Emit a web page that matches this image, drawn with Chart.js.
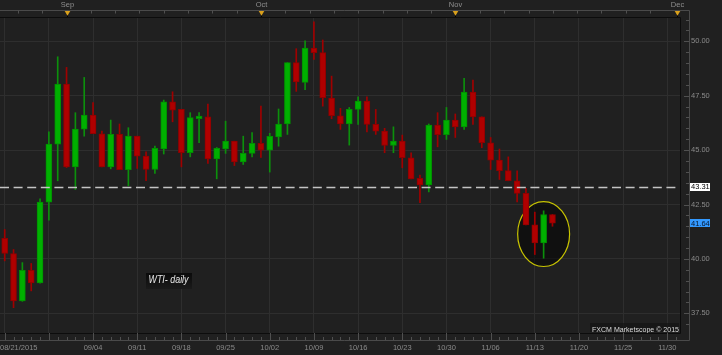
<!DOCTYPE html>
<html><head><meta charset="utf-8">
<script src="https://cdn.jsdelivr.net/npm/chart.js@4.4.0/dist/chart.umd.min.js"></script>
<style>html,body{margin:0;padding:0;background:#202020;}canvas{display:block;}</style>
</head><body>
<canvas id="c" width="722" height="355"></canvas>
<script>
// ---- data (daily WTI candles) ----
const dates = ['08/21','08/24','08/25','08/26','08/27','08/28','08/31','09/01','09/02','09/03','09/04',
 '09/07','09/08','09/09','09/10','09/11','09/14','09/15','09/16','09/17','09/18',
 '09/21','09/22','09/23','09/24','09/25','09/28','09/29','09/30','10/01','10/02',
 '10/05','10/06','10/07','10/08','10/09','10/12','10/13','10/14','10/15','10/16',
 '10/19','10/20','10/21','10/22','10/23','10/26','10/27','10/28','10/29','10/30',
 '11/02','11/03','11/04','11/05','11/06','11/09','11/10','11/11','11/12','11/13',
 '11/16','11/17'];
const opens  = [40.94,40.25,38.07,39.48,38.90,42.61,45.27,48.04,44.23,45.96,46.61,
 45.75,44.23,45.72,44.10,45.64,44.72,44.11,45.06,47.22,46.87,
 44.88,46.44,46.53,44.60,45.06,45.41,44.46,44.85,45.31,45.00,
 45.61,46.20,49.02,48.11,49.69,49.48,47.39,46.58,46.20,46.87,
 47.25,46.18,45.87,45.21,45.41,44.65,43.70,43.40,46.15,45.71,
 46.38,46.07,47.67,46.53,45.34,44.54,44.06,43.59,43.01,41.57,
 40.73,42.04];
const highs  = [41.35,40.43,39.83,39.79,42.76,45.84,49.29,48.80,46.72,48.34,47.18,
 45.87,46.38,46.20,46.03,45.64,44.92,45.18,47.30,47.68,46.87,
 46.72,46.72,47.12,45.12,46.33,45.41,45.64,45.81,47.02,45.77,
 46.89,49.02,49.66,50.02,50.90,50.06,48.40,46.92,46.96,47.45,
 47.45,46.87,46.00,46.07,45.69,44.88,43.85,46.20,46.72,46.96,
 46.66,48.30,48.22,46.53,45.58,45.05,44.69,44.05,43.24,42.15,
 42.21,42.04];
const lows   = [39.91,37.76,38.05,38.53,38.88,41.78,43.59,44.20,43.19,45.64,45.75,
 44.23,44.14,44.10,43.36,44.16,43.59,43.93,44.82,46.30,44.23,
 44.69,45.34,44.39,43.68,44.85,44.29,44.34,44.69,44.66,43.99,
 45.18,45.72,47.70,47.78,49.17,47.02,46.44,45.95,45.23,46.18,
 45.84,45.72,44.88,44.88,44.19,43.68,42.58,43.08,45.15,45.49,
 45.58,45.95,46.18,45.11,44.11,43.65,43.59,42.62,41.56,40.20,
 40.03,41.50];
const closes = [40.25,38.07,39.48,38.90,42.61,45.28,48.04,44.23,45.97,46.61,45.75,
 44.23,45.72,44.10,45.64,44.72,44.11,45.08,47.22,46.84,44.88,
 46.49,46.56,44.60,45.08,45.41,44.46,44.85,45.31,45.00,45.63,
 46.20,49.02,48.13,49.69,49.48,47.41,46.58,46.20,46.87,47.25,
 46.18,45.87,45.21,45.41,44.65,43.68,43.40,46.15,45.71,46.38,
 46.07,47.67,46.53,45.34,44.54,44.06,43.59,43.01,41.56,40.73,
 42.04,41.64];
// one label every 5 sessions (first one carries the year)
const bottomTickLabels = ['08/21/2015','','09/04','09/11','09/18','09/25','10/02','10/09',
 '10/16','10/23','10/30','11/06','11/13','11/20','11/25','11/30'];
const monthLabels = ['Sep','Oct','Nov','Dec'];
const monthSession = [7, 29, 51, 76.1];
const yTickValues = [37.5, 40, 42.5, 45, 47.5, 50];
const refLevel = 43.31;
const lastPrice = 41.64;
const titleText = 'WTI- daily';
const creditText = 'FXCM Marketscope \u00A9 2015';

// ---- annotation anchors (in data units) ----
const circleNote = {x: 61, y: 41.14, rx: 2.94, ry: 1.49};
const titleAnchor = {x: 18.6, y: 39.0};

// ---- styles ----
const FONT = 'Liberation Sans';
const GREEN = '#00b000', GREEN_B = '#009000', GREEN_W = '#0c900c';
const RED = '#b00000', RED_B = '#900000', RED_W = '#a00000';
const GRID = '#2e2e2e', AXIS_TXT = '#8a8a8a';
const X_MIN = -0.532, X_MAX = 76.435, Y_MIN = 36.595, Y_MAX = 51.117;

const up = closes.map((c, i) => c >= opens[i]);
const wickData = dates.map((d, i) => ({x: i, y: [lows[i], highs[i]]}));
const bodyData = dates.map((d, i) => ({x: i, y: [opens[i], closes[i]]}));

const deco = {
  id: 'deco',
  beforeDraw(chart) {
    const c = chart.ctx;
    c.save(); c.fillStyle = '#202020'; c.fillRect(0, 0, chart.width, chart.height); c.restore();
  },
  beforeDatasetsDraw(chart) {
    const c = chart.ctx, xs = chart.scales.x, ys = chart.scales.y, a = chart.chartArea;
    const cx = xs.getPixelForValue(circleNote.x), cy = ys.getPixelForValue(circleNote.y);
    const rx = xs.getPixelForValue(circleNote.x + circleNote.rx) - cx;
    const ry = cy - ys.getPixelForValue(circleNote.y + circleNote.ry);
    c.save();
    c.beginPath(); c.rect(a.left, a.top, a.right - a.left, a.bottom - a.top); c.clip();
    c.beginPath(); c.ellipse(cx, cy, rx, ry, 0, 0, Math.PI * 2);
    c.fillStyle = 'rgba(0,0,0,0.5)'; c.fill();
    c.lineWidth = 1.2; c.strokeStyle = '#c8c400'; c.stroke();
    c.restore();
  },
  afterDatasetsDraw(chart) {
    const c = chart.ctx, xs = chart.scales.x, ys = chart.scales.y, a = chart.chartArea;
    c.save();
    // reference dashed level
    const yr = Math.round(ys.getPixelForValue(refLevel)) + 0.5;
    c.setLineDash([9, 4.6]); c.strokeStyle = '#c4c4c4'; c.lineWidth = 1.4;
    c.beginPath(); c.moveTo(a.left, yr); c.lineTo(a.right, yr); c.stroke();
    c.setLineDash([]);

    // title box
    const tx = xs.getPixelForValue(titleAnchor.x), ty = ys.getPixelForValue(titleAnchor.y);
    const g = c.createLinearGradient(0, ty - 8, 0, ty + 8);
    g.addColorStop(0, '#0a0a0a'); g.addColorStop(1, '#1a1a1a');
    c.fillStyle = g; c.fillRect(Math.round(tx - 23), Math.round(ty - 8), 46, 16);
    c.font = 'italic 10px ' + FONT; c.fillStyle = '#e8e8e8'; c.textBaseline = 'middle';
    const tw = c.measureText(titleText).width;
    c.save(); c.translate(tx - 20.5, ty); c.scale(40 / tw, 1); c.textAlign = 'left';
    c.fillText(titleText, 0, 0); c.restore();

    // credit
    c.font = '8px ' + FONT;
    const cw = c.measureText(creditText).width;
    c.fillStyle = 'rgba(20,20,20,0.7)'; c.fillRect(a.right - 90, a.bottom - 10, 89, 9);
    c.save(); c.translate(a.right - 1, a.bottom - 3.5); c.scale(87 / cw, 1);
    c.fillStyle = '#dcdcdc'; c.textAlign = 'right'; c.textBaseline = 'middle';
    c.fillText(creditText, 0, 0); c.restore();

    // inner dark frame of the plot
    c.strokeStyle = '#0c0c0c'; c.lineWidth = 1;
    c.beginPath();
    c.moveTo(a.left, a.top + 0.5); c.lineTo(a.right + 0.5, a.top + 0.5);
    c.lineTo(a.right + 0.5, a.bottom + 0.5); c.lineTo(a.left, a.bottom + 0.5);
    c.stroke();

    // outer gray frame
    const R = 689.5, T = 10.5, B = 340.5;
    c.strokeStyle = '#4a4a4a';
    c.beginPath(); c.moveTo(0, T); c.lineTo(R, T); c.lineTo(R, B); c.lineTo(0, B); c.stroke();

    // bottom band ticks
    c.strokeStyle = '#505050';
    c.beginPath();
    for (let i = 0; i <= Math.floor(X_MAX); i++) {
      const px = Math.round(xs.getPixelForValue(i)) + 0.5;
      const len = (i % 5 === 0) ? 7 : 3;
      c.moveTo(px, B - 0.5); c.lineTo(px, B - 0.5 - len);
    }
    // right band ticks
    for (let v = 37; v <= 51; v += 0.5) {
      const py = Math.round(ys.getPixelForValue(v)) + 0.5;
      const len = (v % 2.5 === 0) ? 5 : 3;
      c.moveTo(R - 0.5, py); c.lineTo(R - 0.5 - len, py);
    }
    // top band ticks
    for (let k = -2; k <= 24; k++) {
      const px = Math.round(xs.getPixelForValue(monthSession[0] + k * 2.752)) + 0.5;
      c.moveTo(px, T); c.lineTo(px, T + 3);
    }
    c.stroke();

    // bottom axis labels (every 5 sessions; the first one is left-aligned to the plot edge)
    c.font = '7.5px ' + FONT; c.textBaseline = 'middle'; c.fillStyle = AXIS_TXT;
    bottomTickLabels.forEach((l, k) => {
      if (!l) return;
      const px = xs.getPixelForValue(k * 5);
      if (k === 0) { c.textAlign = 'left'; c.fillText(l, a.left, 348); }
      else { c.textAlign = 'center'; c.fillText(l, px, 348); }
    });

    // month markers and labels
    c.font = '7.5px ' + FONT; c.textAlign = 'center'; c.textBaseline = 'middle';
    monthLabels.forEach((m, k) => {
      const px = Math.round(xs.getPixelForValue(monthSession[k])) + 0.5;
      c.fillStyle = '#8e8e8e'; c.fillText(m, px, 5);
      c.strokeStyle = '#000'; c.beginPath(); c.moveTo(px, 14); c.lineTo(px, 17); c.stroke();
      c.fillStyle = '#d9a01c';
      c.beginPath(); c.moveTo(px - 2.8, 11); c.lineTo(px + 2.8, 11); c.lineTo(px, 15.8); c.closePath(); c.fill();
    });

    // price boxes on the right axis
    const box = (val, bg, fg) => {
      const py = ys.getPixelForValue(val);
      c.fillStyle = bg; c.fillRect(690, Math.round(py) - 4, 20, 8);
      c.fillStyle = fg; c.font = '7.5px ' + FONT; c.textAlign = 'left'; c.textBaseline = 'middle';
      c.fillText(val.toFixed(2), 691, py + 0.5);
    };
    box(refLevel, '#ffffff', '#000000');
    box(lastPrice, '#3399ff', '#06162e');
    c.restore();
  }
};

new Chart(document.getElementById('c'), {
  type: 'bar',
  data: {
    datasets: [
      {label: 'wick', data: wickData, barThickness: 1, grouped: false, order: 2,
       backgroundColor: up.map(u => u ? GREEN_W : RED_W), borderWidth: 0},
      {label: 'body', data: bodyData, barThickness: 6, grouped: false, order: 1, minBarLength: 1,
       backgroundColor: up.map(u => u ? GREEN : RED), borderColor: up.map(u => u ? GREEN_B : RED_B),
       borderWidth: 1, borderSkipped: false}
    ]
  },
  options: {
    responsive: false, animation: false, devicePixelRatio: 1,
    layout: {padding: {top: 17, left: 0, right: 0, bottom: 0}},
    plugins: {legend: {display: false}, tooltip: {enabled: false}},
    scales: {
      x: {
        type: 'linear', position: 'bottom', min: X_MIN, max: X_MAX, offset: false,
        afterBuildTicks: s => { s.ticks = bottomTickLabels.map((l, k) => ({value: k * 5})); },
        afterFit: s => { s.height = 22; s.paddingLeft = 0; s.paddingRight = 0; },
        ticks: {display: false},
        grid: {color: GRID, drawTicks: false, offset: false},
        border: {display: false}
      },
      y: {
        type: 'linear', position: 'right', min: Y_MIN, max: Y_MAX,
        afterBuildTicks: s => { s.ticks = yTickValues.map(v => ({value: v})); },
        afterFit: s => { s.width = 42; s.paddingTop = 0; s.paddingBottom = 0; },
        ticks: {padding: 11, color: AXIS_TXT, font: {family: FONT, size: 7.5}, callback: v => Number(v).toFixed(2)},
        grid: {color: GRID, drawTicks: false},
        border: {display: false}
      }
    }
  },
  plugins: [deco]
});
</script>
</body></html>
